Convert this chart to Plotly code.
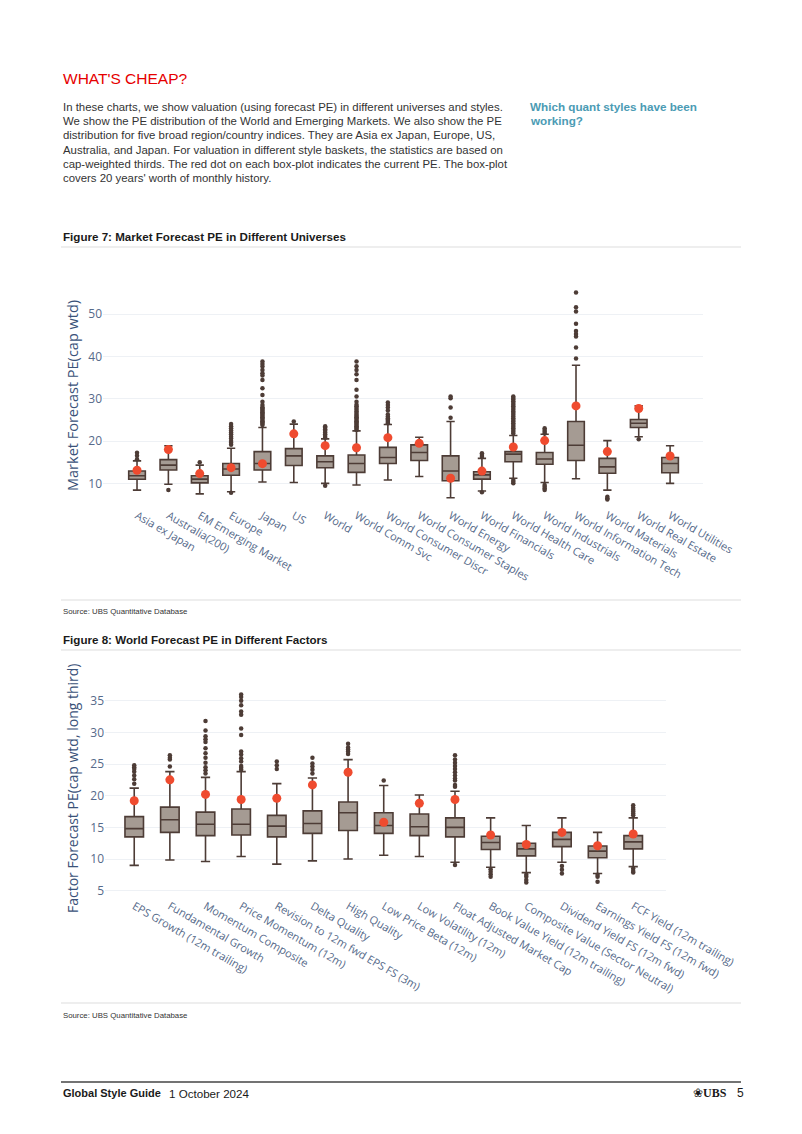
import plotly.graph_objects as go

W, H = 802, 1134


def px(x):
    return x / W


def py(y):
    return 1 - y / H


# ---------------- Figure 7 data ----------------
univ_cats = ["Asia ex Japan", "Australia(200)", "EM Emerging Market", "Europe", "Japan", "US",
             "World", "World Comm Svc", "World Consumer Discr", "World Consumer Staples",
             "World Energy", "World Financials", "World Health Care", "World Industrials",
             "World Information Tech", "World Materials", "World Real Estate", "World Utilities"]
univ_low = [8.4, 9.8, 7.5, 8.0, 10.3, 10.2, 10.0, 9.6, 10.8, 11.6, 6.6, 8.2, 11.2, 10.2, 11.1, 8.4, 21.0, 10.0]
univ_q1 = [10.95, 13.15, 10.1, 11.9, 13.15, 14.2, 13.7, 12.6, 14.7, 15.4, 10.6, 11.0, 15.1, 14.5, 15.4, 12.4, 23.2, 12.5]
univ_med = [11.8, 14.3, 11.0, 13.4, 14.7, 16.5, 15.1, 14.7, 16.1, 17.3, 12.9, 12.0, 16.9, 15.75, 19.0, 13.9, 24.2, 14.7]
univ_q3 = [12.9, 15.6, 11.8, 14.7, 17.5, 18.2, 16.5, 16.7, 18.5, 19.1, 16.5, 12.75, 17.5, 17.3, 24.6, 15.9, 25.1, 16.1]
univ_high = [15.3, 18.9, 14.3, 18.3, 23.2, 24.0, 20.5, 22.4, 23.9, 20.9, 24.6, 15.9, 21.3, 21.6, 37.9, 20.1, 28.3, 18.9]
univ_now = [13.1, 18.0, 12.3, 13.7, 14.65, 21.7, 18.9, 18.4, 20.8, 19.45, 11.2, 12.9, 18.6, 20.1, 28.3, 17.5, 27.7, 16.45]
univ_outliers = [
    [15.7, 16.5, 17.25],
    [8.4],
    [15.0],
    [7.8, 19.1, 19.6, 20.0, 20.6, 21.0, 21.6, 22.0, 22.5, 23.0, 23.5, 24.0],
    [23.8, 24.1, 24.4, 24.7, 25.0, 25.3, 25.6, 25.9, 26.2, 26.5, 26.8, 27.1, 27.4, 27.7, 28.0, 28.5,
     29.3, 30.9, 32.5, 34.4, 35.5, 36.0, 36.8, 37.6, 38.2, 38.8],
    [24.6],
    [9.4, 20.8, 21.2, 21.6, 22.0, 22.4, 22.8, 23.2, 23.5],
    [22.6, 22.9, 23.2, 23.5, 23.8, 24.1, 24.4, 24.7, 25.0, 25.3, 25.6, 25.9, 26.2, 26.6, 27.0, 27.4,
     27.8, 28.2, 28.6, 29.3, 30.5, 32.1, 34.4, 35.8, 36.8, 37.7, 38.8],
    [24.2, 24.5, 24.8, 25.1, 25.4, 25.8, 26.3, 27.2, 27.9, 28.5, 29.1],
    [],
    [25.5, 27.9, 30.1, 30.5],
    [7.9, 16.3, 16.7, 17.1],
    [10.0, 10.4, 10.8, 21.8, 22.2, 22.6, 23.0, 23.4, 23.8, 24.2, 24.6, 25.0, 25.4, 25.8, 26.2, 26.6,
     27.0, 27.4, 27.8, 28.2, 28.6, 29.0, 29.4, 29.8, 30.2, 30.5],
    [8.4, 8.8, 9.2, 9.6, 21.8, 22.2, 22.6, 23.0],
    [39.5, 42.1, 44.7, 45.3, 46.0, 47.7, 50.6, 51.6, 55.1],
    [6.2, 6.5, 6.8],
    [20.4],
    [],
]
univ_ticks = [10, 20, 30, 40, 50]

# ---------------- Figure 8 data ----------------
fac_cats = ["EPS Growth (12m trailing)", "Fundamental Growth", "Momentum Composite",
            "Price Momentum (12m)", "Revision to 12m fwd EPS FS (3m)", "Delta Quality",
            "High Quality", "Low Price Beta (12m)", "Low Volatility (12m)",
            "Float Adjusted Market Cap", "Book Value Yield (12m trailing)",
            "Composite Value (Sector Neutral)", "Dividend Yield FS (12m fwd)",
            "Earnings Yield FS (12m fwd)", "FCF Yield (12m trailing)"]
fac_low = [9.0, 9.85, 9.6, 10.4, 9.2, 9.7, 10.0, 10.6, 10.4, 9.5, 8.7, 7.85, 9.5, 7.7, 8.8]
fac_q1 = [13.5, 14.2, 13.7, 13.8, 13.5, 14.05, 14.5, 14.05, 13.7, 13.5, 11.5, 10.5, 11.95, 10.2, 11.6]
fac_med = [14.8, 16.2, 15.5, 15.5, 15.2, 15.6, 17.3, 15.3, 15.1, 15.0, 12.6, 11.6, 13.1, 11.25, 12.7]
fac_q3 = [16.7, 18.2, 17.4, 17.9, 16.9, 17.6, 19.0, 17.3, 17.1, 16.5, 13.6, 12.5, 14.2, 12.05, 13.7]
fac_high = [21.2, 23.8, 22.9, 23.8, 21.9, 22.8, 25.7, 21.6, 20.1, 20.7, 16.5, 15.3, 16.5, 14.2, 16.5]
fac_now = [19.2, 22.5, 20.2, 19.4, 19.6, 21.7, 23.7, 15.8, 18.8, 19.4, 13.8, 12.3, 14.2, 12.1, 13.95]
fac_outliers = [
    [21.9, 22.6, 23.2, 23.8, 24.2, 24.5, 24.8],
    [24.6, 25.7, 26.0, 26.4],
    [23.5, 24.0, 24.5, 25.2, 26.0, 26.7, 27.5, 28.5, 28.9, 29.4, 30.3, 31.8],
    [24.1, 24.4, 24.7, 25.4, 25.9, 26.5, 27.0, 29.6, 30.6, 32.8, 33.3, 34.3, 35.0, 35.6, 36.0],
    [24.2, 24.8, 25.4],
    [23.5, 24.1, 24.6, 25.1, 26.0],
    [26.6, 27.0, 27.3, 27.6, 28.2],
    [22.4],
    [],
    [9.05, 21.4, 21.7, 22.4, 22.7, 23.2, 23.7, 24.2, 24.7, 25.2, 25.7, 26.4],
    [7.2, 7.6, 8.0, 8.4],
    [6.3, 6.7, 7.2, 7.5],
    [7.7, 8.3, 8.9],
    [6.4, 7.2, 7.5],
    [7.85, 8.1, 8.5, 16.9, 17.2, 17.5, 17.8, 18.1, 18.5],
]
fac_ticks = [5, 10, 15, 20, 25, 30, 35]

# ---------------- styles ----------------
BOX_FILL = "#a59b93"
BOX_LINE = "#4d3c36"
RED = "#ef4b2f"
TICK_COL = "#566a8a"
TITLE_COL = "#3a5279"
GRID = "#eef1f5"
CHART_FONT = "Open Sans, Noto Sans, sans-serif"
DOC_FONT = "Liberation Sans, Arial, sans-serif"

fig = go.Figure()


def add_panel(cats, low, q1, med, q3, high, now, outliers, xa, ya, bw):
    fig.add_trace(go.Box(
        x=cats, q1=q1, median=med, q3=q3, lowerfence=low, upperfence=high,
        fillcolor=BOX_FILL, line=dict(color=BOX_LINE, width=1.6), whiskerwidth=0.5,
        width=bw, boxpoints=False, xaxis=xa, yaxis=ya, showlegend=False, hoverinfo="skip"))
    ox, oy = [], []
    for c, vals in zip(cats, outliers):
        for v in vals:
            ox.append(c)
            oy.append(v)
    fig.add_trace(go.Scatter(
        x=ox, y=oy, mode="markers", marker=dict(color=BOX_LINE, size=4.5),
        xaxis=xa, yaxis=ya, showlegend=False, hoverinfo="skip"))
    fig.add_trace(go.Scatter(
        x=cats, y=now, mode="markers", marker=dict(color=RED, size=9),
        xaxis=xa, yaxis=ya, showlegend=False, hoverinfo="skip"))


add_panel(univ_cats, univ_low, univ_q1, univ_med, univ_q3, univ_high, univ_now,
          univ_outliers, "x", "y", 0.53)
add_panel(fac_cats, fac_low, fac_q1, fac_med, fac_q3, fac_high, fac_now,
          fac_outliers, "x2", "y2", 0.52)

xcommon = dict(type="category", tickangle=30, showgrid=False, zeroline=False, showline=False,
               ticks="", automargin=False,
               tickfont=dict(family=CHART_FONT, size=11, color=TICK_COL))
ycommon = dict(showgrid=True, gridcolor=GRID, gridwidth=1, zeroline=False, showline=False,
               ticks="", automargin=False,
               tickfont=dict(family=CHART_FONT, size=12, color=TICK_COL))

fig.update_layout(
    width=W, height=H, autosize=False,
    margin=dict(l=0, r=0, t=0, b=0, pad=0, autoexpand=False),
    paper_bgcolor="white", plot_bgcolor="white",
    showlegend=False,
    xaxis=dict(domain=[px(103), px(703)], range=[-1.085, 18.05], anchor="y", **xcommon),
    yaxis=dict(domain=[py(506.6), py(284.5)], range=[4.5, 57], tickvals=univ_ticks,
               anchor="x", **ycommon),
    xaxis2=dict(domain=[px(105), px(666)], range=[-0.82, 14.92], anchor="y2", **xcommon),
    yaxis2=dict(domain=[py(897), py(684.9)], range=[4, 37.5], tickvals=fac_ticks,
                anchor="x2", **ycommon),
)

ann = []


def text(x, y, s, size, color="#333333", bold=False, family=DOC_FONT, xanchor="left", angle=0):
    ann.append(dict(
        x=px(x), y=py(y), xref="paper", yref="paper", text=("<b>%s</b>" % s) if bold else s,
        showarrow=False, xanchor=xanchor, yanchor="middle", textangle=angle,
        font=dict(family=family, size=size, color=color)))


text(61, 78, "WHAT'S CHEAP?", 15.5, color="#e60000")
para = [
    "In these charts, we show valuation (using forecast PE) in different universes and styles.",
    "We show the PE distribution of the World and Emerging Markets. We also show the PE",
    "distribution for five broad region/country indices. They are Asia ex Japan, Europe, US,",
    "Australia, and Japan. For valuation in different style baskets, the statistics are based on",
    "cap-weighted thirds. The red dot on each box-plot indicates the current PE. The box-plot",
    "covers 20 years' worth of monthly history.",
]
for i, line in enumerate(para):
    text(61, 106.5 + i * 14.35, line, 11.4)
text(528, 106.5, "Which quant styles have been", 11.7, color="#4b9bb4", bold=True)
text(528, 121, "working?", 11.7, color="#4b9bb4", bold=True)

text(61, 236, "Figure 7: Market Forecast PE in Different Universes", 11.6, color="#1a1a1a", bold=True)
text(61, 611, "Source: UBS Quantitative Database", 7.8)
text(61, 639, "Figure 8: World Forecast PE in Different Factors", 11.6, color="#1a1a1a", bold=True)
text(61, 1015, "Source: UBS Quantitative Database", 7.8)

text(72, 396, "Market Forecast PE(cap wtd)", 14.5, color=TITLE_COL, family=CHART_FONT,
     xanchor="center", angle=-90)
text(72, 789, "Factor Forecast PE(cap wtd, long third)", 14, color=TITLE_COL, family=CHART_FONT,
     xanchor="center", angle=-90)

text(61, 1093, "Global Style Guide", 11, color="#1a1a1a", bold=True)
text(167, 1093, "1 October 2024", 11.6, color="#1a1a1a")
text(729, 1093, "\u2740<b>UBS</b>", 12, color="#1a1a1a", family="Liberation Serif, serif", xanchor="right")
text(735, 1093, "5", 12, color="#1a1a1a")

fig.update_layout(annotations=ann)

shapes = []
for yline in (247, 600, 650, 1003):
    shapes.append(dict(type="line", xref="paper", yref="paper", x0=px(61), x1=px(741),
                       y0=py(yline), y1=py(yline), line=dict(color="#e8e8e8", width=1.5)))
shapes.append(dict(type="line", xref="paper", yref="paper", x0=px(61), x1=px(741),
                   y0=py(1082), y1=py(1082), line=dict(color="#444444", width=1.3)))
fig.update_layout(shapes=shapes)

fig.write_html("out.html", config={"displayModeBar": False},
               post_script="document.body.style.margin='0';document.body.style.overflow='hidden';")
